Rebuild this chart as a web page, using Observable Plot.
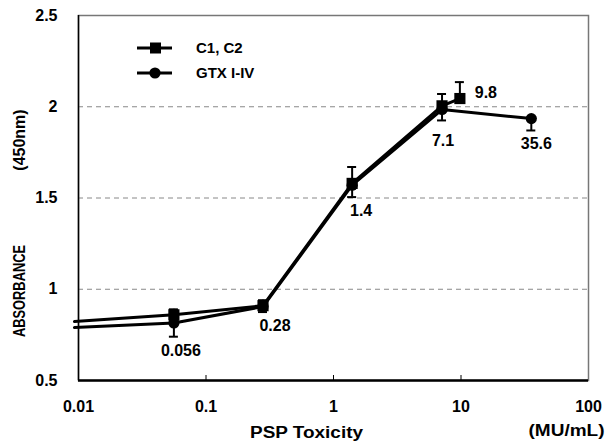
<!DOCTYPE html>
<html><head><meta charset="utf-8">
<script src="https://cdn.jsdelivr.net/npm/d3@7"></script>
<script src="https://cdn.jsdelivr.net/npm/@observablehq/plot@0.6"></script>
<style>
body{margin:0;background:#fff}
#chart{position:relative;width:607px;height:447px;overflow:hidden}
#legend{position:absolute;left:0;top:0}
</style>
</head><body><div id="chart"></div>
<script>
// ---- data ----
const c12X   = [0.0093, 0.056, 0.28, 1.4, 7.1, 9.8];
const c12Y   = [0.823, 0.86, 0.91, 1.58, 2.005, 2.045];
const c12Err = [0, 0.03, 0.03, 0.09, 0.065, 0.09];    // upper error
const gtxX   = [0.0093, 0.056, 0.28, 1.4, 7.1, 35.6];
const gtxY   = [0.79, 0.815, 0.905, 1.57, 1.985, 1.935];
const gtxErr = [0, 0.075, 0.03, 0.065, 0.06, 0.065];   // lower error
const pointLabels = ["0.056", "0.28", "1.4", "7.1", "9.8", "35.6"];
const labelSeries = ["gtx", "c12", "gtx", "gtx", "c12", "gtx"];
const xTicks = [0.01, 0.1, 1, 10, 100];
const yTicks = [0.5, 1, 1.5, 2, 2.5];
const gridValues = [1, 1.5, 2];
const seriesNames = ["C1, C2", "GTX I-IV"];
const yTitle = ["ABSORBANCE", "(450nm)"];
const xTitle = ["PSP Toxicity", "(MU/mL)"];

// label offsets (pixels)
const labelOffsets = {"0.056":[7,28], "0.28":[12,20], "1.4":[9,26], "7.1":[1,31], "9.8":[26,-6], "35.6":[5,25]};

const c12 = c12X.map((x,i)=>({x, y:c12Y[i], e:c12Err[i], marker:i>0}));
const gtx = gtxX.map((x,i)=>({x, y:gtxY[i], e:gtxErr[i], marker:i>0}));
const bySeries = {c12, gtx};

const FONT = "'Liberation Sans', Arial, sans-serif";
const capW = 4.5;

const labelMarks = pointLabels.map((t,i)=>{
  const s = bySeries[labelSeries[i]];
  const p = s.find(d=>d.marker && String(d.x)===t);
  const [dx,dy] = labelOffsets[t];
  return Plot.text([p], {x:"x", y:"y", text:()=>t, dx, dy, fontSize:16, fontWeight:"bold", fill:"#000"});
});

const c12M = c12.filter(d=>d.marker && d.e>0);
const gtxM = gtx.filter(d=>d.marker && d.e>0);

const titleStyle = {fontSize:16, fontWeight:"bold", fill:"#000", textAnchor:"middle"};

const plot = Plot.plot({
  width:607, height:447,
  marginLeft:78, marginRight:19, marginTop:15, marginBottom:67,
  style:{fontFamily:FONT, background:"#fff"},
  x:{type:"log", domain:[0.01,100]},
  y:{domain:[0.5,2.5]},
  marks:[
    Plot.frame({stroke:"#777", strokeWidth:1.5}),
    Plot.ruleY(gridValues, {stroke:"#888", strokeDasharray:"5,4", strokeWidth:1}),
    Plot.ruleY([0.5], {stroke:"#000", strokeWidth:2.5}),
    Plot.ruleX([0.01], {stroke:"#000", strokeWidth:1.5}),
    Plot.axisX({ticks:xTicks, tickFormat:d=>String(d), tickSize:0, tickPadding:20, fontSize:16, fontWeight:"bold", label:null}),
    Plot.axisX({ticks:[0.1,1,10], tickSize:-5, text:null, stroke:"#000", label:null}),
    Plot.axisY({ticks:yTicks, tickFormat:d=>String(d), tickSize:0, tickPadding:21, fontSize:16, fontWeight:"bold", label:null}),
    // error bars
    Plot.ruleX(c12M, {x:"x", y1:"y", y2:d=>d.y+d.e, stroke:"#000", strokeWidth:2}),
    Plot.ruleY(c12M, {x1:"x", x2:"x", y:d=>d.y+d.e, insetLeft:-capW, insetRight:-capW, stroke:"#000", strokeWidth:2}),
    Plot.ruleX(gtxM, {x:"x", y1:d=>d.y-d.e, y2:"y", stroke:"#000", strokeWidth:2}),
    Plot.ruleY(gtxM, {x1:"x", x2:"x", y:d=>d.y-d.e, insetLeft:-capW, insetRight:-capW, stroke:"#000", strokeWidth:2}),
    // lines
    Plot.line(c12, {x:"x", y:"y", stroke:"#000", strokeWidth:3}),
    Plot.line(gtx, {x:"x", y:"y", stroke:"#000", strokeWidth:3}),
    Plot.dot(c12.filter(d=>d.marker), {x:"x", y:"y", symbol:"square", r:6.3, fill:"#000"}),
    Plot.dot(gtx.filter(d=>d.marker), {x:"x", y:"y", symbol:"circle", r:5.6, fill:"#000"}),
    ...labelMarks,
    // axis titles
    Plot.text([yTitle[0]], {frameAnchor:"left", dx:-59, dy:93, rotate:-90, ...titleStyle, fontSize:17, className:"t-abs"}),
    Plot.text([yTitle[1]], {frameAnchor:"left", dx:-59, dy:-58, rotate:-90, ...titleStyle}),
    Plot.text([xTitle[0]], {frameAnchor:"bottom", dx:-27, dy:57, ...titleStyle, className:"t-psp"}),
    Plot.text([xTitle[1]], {frameAnchor:"bottom-right", dx:-60, dy:55, ...titleStyle, textAnchor:"start", className:"t-mu"})
  ]
});
document.getElementById("chart").appendChild(plot);

// fit title widths to the reference look
const fit = {"t-abs":92, "t-psp":113, "t-mu":76};
Object.entries(fit).forEach(([cls,len])=>{
  d3.select(plot).selectAll("g."+cls+" text").attr("textLength",len).attr("lengthAdjust","spacingAndGlyphs");
});

// legend
const lg = d3.select("#chart").append("svg").attr("id","legend").attr("width",607).attr("height",447);
seriesNames.forEach((name,i)=>{
  const y = 48 + i*25;
  lg.append("line").attr("x1",137).attr("x2",172).attr("y1",y).attr("y2",y).attr("stroke","#000").attr("stroke-width",3);
  if (i===0) lg.append("rect").attr("x",150).attr("y",y-5.5).attr("width",11).attr("height",11).attr("fill","#000");
  else lg.append("circle").attr("cx",155).attr("cy",y).attr("r",5.6).attr("fill","#000");
  lg.append("text").attr("x",196).attr("y",y).attr("dy","0.35em").attr("font-family",FONT).attr("font-size",15).attr("font-weight","bold").text(name);
});
</script>
</body></html>
